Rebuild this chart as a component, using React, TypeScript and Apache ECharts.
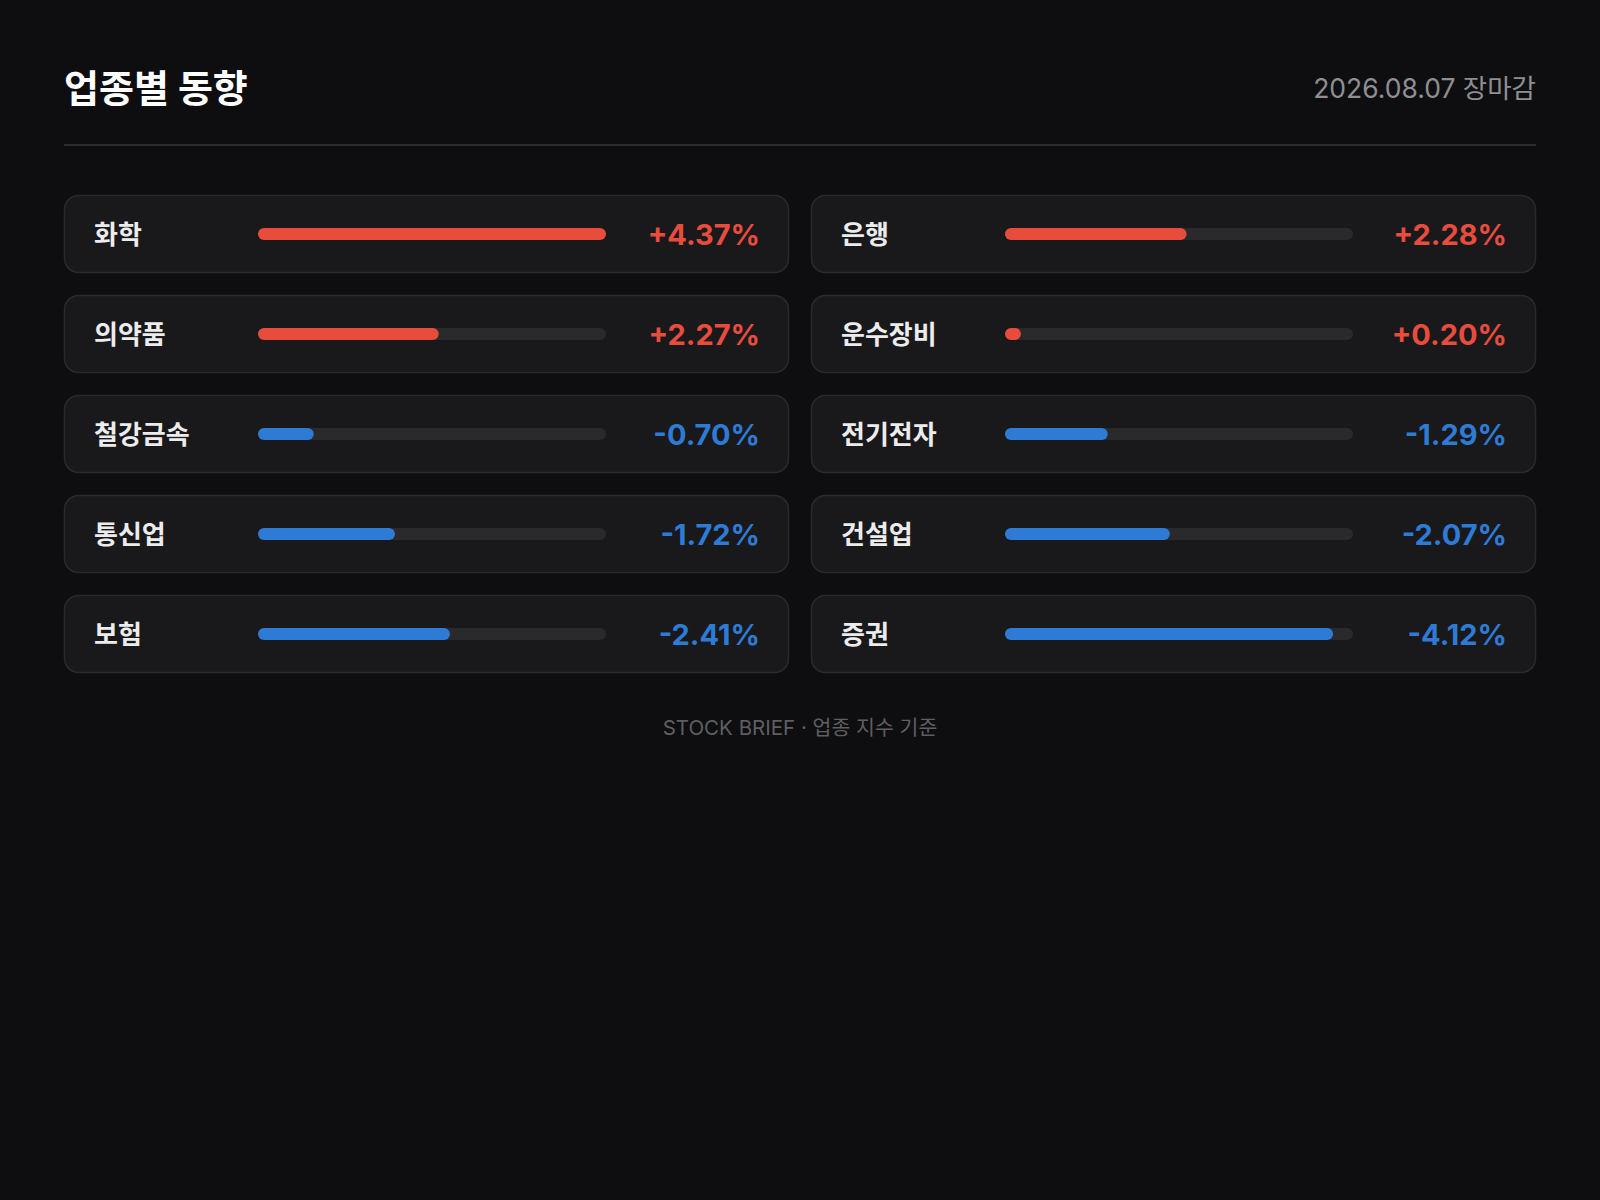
import React, { useEffect, useRef } from "react";
import * as echarts from "echarts";

const sectors = ["화학", "은행", "의약품", "운수장비", "철강금속", "전기전자", "통신업", "건설업", "보험", "증권"];
const changes = [4.37, 2.28, 2.27, 0.2, -0.7, -1.29, -1.72, -2.07, -2.41, -4.12];
const titleText = "업종별 동향";
const dateText = "2026.08.07 장마감";
const footerText = "STOCK BRIEF · 업종 지수 기준";

const FONT = "Inter, 'Noto Sans CJK KR', sans-serif";
const RED = "#e84c3d";
const BLUE = "#2e7bd6";

export default function App() {
  const ref = useRef<HTMLDivElement>(null);
  useEffect(() => {
    document.body.style.margin = "0";
    document.body.style.background = "#0e0e10";
    const chart = echarts.init(ref.current!, undefined, { renderer: "svg" });
    const maxAbs = Math.max(...changes.map((v) => Math.abs(v)));
    const grids: any[] = [];
    const xAxes: any[] = [];
    const yAxes: any[] = [];
    const series: any[] = [];
    const graphics: any[] = [];
    const fmt = (v: number) => `${v > 0 ? "+" : ""}${v.toFixed(2)}%`;

    sectors.forEach((name, i) => {
      const col = i % 2;
      const row = Math.floor(i / 2);
      const cx = 64 + col * 747;
      const cy = 195 + row * 100;
      const cw = 725;
      const ch = 78;
      const v = changes[i];
      const color = v >= 0 ? RED : BLUE;
      graphics.push({
        type: "rect",
        z: -10,
        shape: { x: cx + 0.5, y: cy + 0.5, width: cw - 1, height: ch - 1, r: 14 },
        style: { fill: "#19191c", stroke: "#2a2a2e", lineWidth: 1.5 },
      });
      grids.push({ left: cx + 194, top: cy + 33, width: 348, height: 12 });
      xAxes.push({
        gridIndex: i,
        type: "value",
        min: 0,
        max: maxAbs,
        show: false,
      });
      yAxes.push({
        gridIndex: i,
        type: "category",
        data: [name],
        position: "left",
        axisLine: { show: false },
        axisTick: { show: false },
        splitLine: { show: false },
        axisLabel: {
          margin: 164,
          align: "left",
          color: "#ececec",
          fontSize: 26,
          fontWeight: 600,
          fontFamily: FONT,
        },
      });
      yAxes.push({
        gridIndex: i,
        type: "category",
        data: [fmt(v)],
        position: "right",
        axisLine: { show: false },
        axisTick: { show: false },
        splitLine: { show: false },
        axisLabel: {
          margin: 154,
          align: "right",
          color,
          fontSize: 29,
          fontWeight: 700,
          fontFamily: FONT,
        },
      });
      series.push({
        type: "bar",
        xAxisIndex: i,
        yAxisIndex: i * 2,
        data: [Math.abs(v)],
        barWidth: 12,
        itemStyle: { color, borderRadius: 6 },
        showBackground: true,
        backgroundStyle: { color: "#2a2a2d", borderRadius: 6 },
        silent: true,
      });
    });

    graphics.push(
      {
        type: "text",
        style: {
          text: titleText,
          x: 64,
          y: 88,
          fill: "#ffffff",
          fontSize: 38,
          fontWeight: 700,
          fontFamily: FONT,
          textAlign: "left",
          textVerticalAlign: "middle",
        },
      },
      {
        type: "text",
        style: {
          text: dateText,
          x: 1536,
          y: 88,
          fill: "#8e8e93",
          fontSize: 26.5,
          fontWeight: 400,
          fontFamily: FONT,
          textAlign: "right",
          textVerticalAlign: "middle",
        },
      },
      {
        type: "line",
        shape: { x1: 64, y1: 145, x2: 1536, y2: 145 },
        style: { stroke: "#2c2c30", lineWidth: 2 },
      },
      {
        type: "text",
        style: {
          text: footerText,
          x: 800,
          y: 727,
          fill: "#5e5e63",
          fontSize: 20.5,
          fontWeight: 400,
          fontFamily: FONT,
          textAlign: "center",
          textVerticalAlign: "middle",
        },
      }
    );

    chart.setOption({
      animation: false,
      backgroundColor: "#0e0e10",
      grid: grids,
      xAxis: xAxes,
      yAxis: yAxes,
      series,
      graphic: { elements: graphics },
    });
    return () => chart.dispose();
  }, []);
  return <div ref={ref} style={{ width: 1600, height: 1200 }} />;
}
